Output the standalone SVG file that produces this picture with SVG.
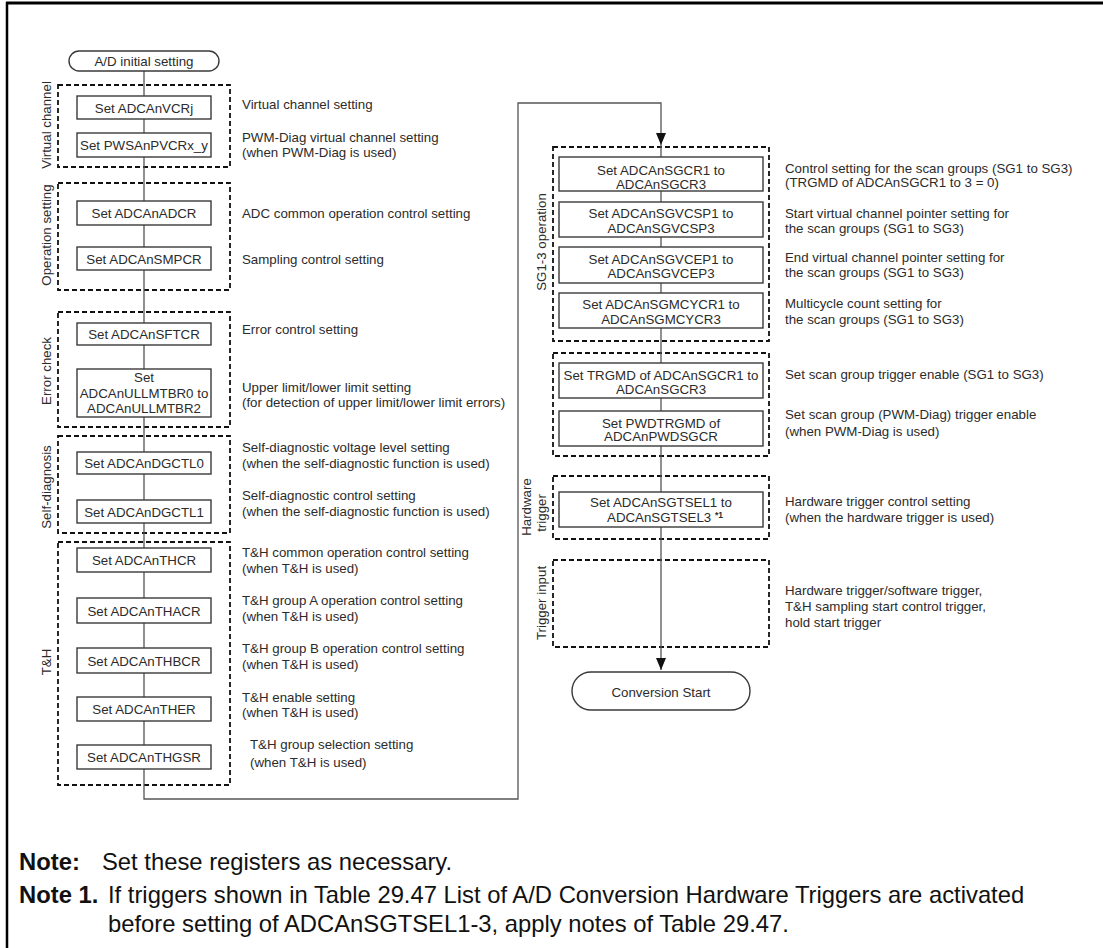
<svg xmlns="http://www.w3.org/2000/svg" width="1103" height="948" viewBox="0 0 1103 948">
<style>
text{font-family:"Liberation Sans",Arial,sans-serif;fill:#2b2b2b;font-size:13.3px}
.c{text-anchor:middle}
.box{fill:#fff;stroke:#3a3a3a;stroke-width:1.4}
.dash{fill:none;stroke:#111;stroke-width:1.8;stroke-dasharray:5,3}
.conn{fill:none;stroke:#555;stroke-width:1.3}
.lbl{text-anchor:middle}
.note{font-size:23.8px;fill:#111}
.nb{font-weight:bold}
</style>
<defs>
<marker id="arr" markerUnits="userSpaceOnUse" markerWidth="12" markerHeight="10" refX="12" refY="5" orient="auto" viewBox="0 0 12 10">
<path d="M0,0 L12,5 L0,10 Z" fill="#111"/>
</marker>
</defs>
<rect width="1103" height="948" fill="#fff"/>
<g id="frame">
<line x1="6" y1="3" x2="1103" y2="3" stroke="#000" stroke-width="3"/>
<line x1="7" y1="2" x2="7" y2="948" stroke="#000" stroke-width="2.5"/>
</g>
<g id="groups">
<rect class="dash" x="58" y="85" width="172" height="82"/>
<rect class="dash" x="58" y="183" width="172" height="107"/>
<rect class="dash" x="58" y="312" width="172" height="115"/>
<rect class="dash" x="58" y="436" width="172" height="97"/>
<rect class="dash" x="58" y="542" width="172" height="243"/>
<rect class="dash" x="553" y="147" width="216" height="194"/>
<rect class="dash" x="553" y="353" width="216" height="103"/>
<rect class="dash" x="553" y="476" width="216" height="63"/>
<rect class="dash" x="553" y="560" width="216" height="87"/>
<text class="lbl" transform="translate(51,125) rotate(-90)">Virtual channel</text>
<text class="lbl" transform="translate(51,235) rotate(-90)">Operation setting</text>
<text class="lbl" transform="translate(51,371) rotate(-90)">Error check</text>
<text class="lbl" transform="translate(51,487) rotate(-90)">Self-diagnosis</text>
<text class="lbl" transform="translate(51,662) rotate(-90)">T&amp;H</text>
<text class="lbl" transform="translate(546,242) rotate(-90)">SG1-3 operation</text>
<text class="lbl" transform="translate(531,507) rotate(-90)">Hardware</text>
<text class="lbl" transform="translate(546,513) rotate(-90)">trigger</text>
<text class="lbl" transform="translate(546,603) rotate(-90)">Trigger input</text>
</g>
<g id="connectors">
<path class="conn" d="M144,71 V799 H518 V103 H661 V145" marker-end="url(#arr)"/>
<path class="conn" d="M661,145 V670" marker-end="url(#arr)"/>
</g>
<g id="n-start"><rect class="box" x="69" y="51" width="150" height="20" rx="10"/><text class="c" x="144" y="66">A/D initial setting</text></g>
<g id="n-vcr"><rect class="box" x="77" y="96" width="134" height="23"/><text class="c" x="144" y="112.5">Set ADCAnVCRj</text></g>
<g id="n-pvcr"><rect class="box" x="77" y="133" width="134" height="24"/><text class="c" x="144" y="150">Set PWSAnPVCRx_y</text></g>
<g id="n-adcr"><rect class="box" x="77" y="201" width="134" height="24"/><text class="c" x="144" y="218">Set ADCAnADCR</text></g>
<g id="n-smpcr"><rect class="box" x="77" y="247" width="134" height="23"/><text class="c" x="144" y="263.5">Set ADCAnSMPCR</text></g>
<g id="n-sftcr"><rect class="box" x="77" y="323" width="134" height="22"/><text class="c" x="144" y="339">Set ADCAnSFTCR</text></g>
<g id="n-ullm"><rect class="box" x="77" y="369" width="134" height="48"/><text class="c" x="144" y="382">Set</text><text class="c" x="144" y="397.5">ADCAnULLMTBR0 to</text><text class="c" x="144" y="413">ADCAnULLMTBR2</text></g>
<g id="n-dg0"><rect class="box" x="77" y="452" width="134" height="22"/><text class="c" x="144" y="468">Set ADCAnDGCTL0</text></g>
<g id="n-dg1"><rect class="box" x="77" y="500" width="134" height="23"/><text class="c" x="144" y="516.5">Set ADCAnDGCTL1</text></g>
<g id="n-thcr"><rect class="box" x="77" y="548" width="134" height="24"/><text class="c" x="144" y="565">Set ADCAnTHCR</text></g>
<g id="n-thacr"><rect class="box" x="77" y="598" width="134" height="25"/><text class="c" x="144" y="615.5">Set ADCAnTHACR</text></g>
<g id="n-thbcr"><rect class="box" x="77" y="648" width="134" height="25"/><text class="c" x="144" y="665.5">Set ADCAnTHBCR</text></g>
<g id="n-ther"><rect class="box" x="77" y="697" width="134" height="24"/><text class="c" x="144" y="714">Set ADCAnTHER</text></g>
<g id="n-thgsr"><rect class="box" x="77" y="745" width="134" height="24"/><text class="c" x="144" y="762">Set ADCAnTHGSR</text></g>
<g id="n-sgcr"><rect class="box" x="559" y="157" width="204" height="34"/><text class="c" x="661" y="175">Set ADCAnSGCR1 to</text><text class="c" x="661" y="189">ADCAnSGCR3</text></g>
<g id="n-sgvcsp"><rect class="box" x="559" y="202" width="204" height="35"/><text class="c" x="661" y="218">Set ADCAnSGVCSP1 to</text><text class="c" x="661" y="233">ADCAnSGVCSP3</text></g>
<g id="n-sgvcep"><rect class="box" x="559" y="247" width="204" height="36"/><text class="c" x="661" y="264">Set ADCAnSGVCEP1 to</text><text class="c" x="661" y="278">ADCAnSGVCEP3</text></g>
<g id="n-sgmcycr"><rect class="box" x="559" y="293" width="204" height="35"/><text class="c" x="661" y="309">Set ADCAnSGMCYCR1 to</text><text class="c" x="661" y="324">ADCAnSGMCYCR3</text></g>
<g id="n-trgmd"><rect class="box" x="559" y="363" width="204" height="35"/><text class="c" x="661" y="380">Set TRGMD of ADCAnSGCR1 to</text><text class="c" x="661" y="394">ADCAnSGCR3</text></g>
<g id="n-pwdtrgmd"><rect class="box" x="559" y="411" width="204" height="35"/><text class="c" x="661" y="428">Set PWDTRGMD of</text><text class="c" x="661" y="441">ADCAnPWDSGCR</text></g>
<g id="n-sgtsel"><rect class="box" x="559" y="492" width="204" height="35"/><text class="c" x="661" y="507">Set ADCAnSGTSEL1 to</text><text class="c" x="665" y="521.5">ADCAnSGTSEL3 <tspan font-size="8.5" font-weight="bold" dy="-4">*1</tspan></text></g>
<g id="n-end"><rect class="box" x="572" y="672" width="178" height="38" rx="19"/><text class="c" x="661" y="697">Conversion Start</text></g>
<g id="desc-left">
<text x="242" y="109">Virtual channel setting</text>
<text x="242" y="142">PWM-Diag virtual channel setting</text>
<text x="242" y="157">(when PWM-Diag is used)</text>
<text x="242" y="218">ADC common operation control setting</text>
<text x="242" y="264">Sampling control setting</text>
<text x="242" y="334">Error control setting</text>
<text x="242" y="392">Upper limit/lower limit setting</text>
<text x="242" y="407">(for detection of upper limit/lower limit errors)</text>
<text x="242" y="452">Self-diagnostic voltage level setting</text>
<text x="242" y="468">(when the self-diagnostic function is used)</text>
<text x="242" y="500">Self-diagnostic control setting</text>
<text x="242" y="516">(when the self-diagnostic function is used)</text>
<text x="242" y="557">T&amp;H common operation control setting</text>
<text x="242" y="573">(when T&amp;H is used)</text>
<text x="242" y="605">T&amp;H group A operation control setting</text>
<text x="242" y="621">(when T&amp;H is used)</text>
<text x="242" y="653">T&amp;H group B operation control setting</text>
<text x="242" y="669">(when T&amp;H is used)</text>
<text x="242" y="702">T&amp;H enable setting</text>
<text x="242" y="717">(when T&amp;H is used)</text>
<text x="250" y="749" font-size="15">T&amp;H group selection setting</text>
<text x="250" y="767" font-size="15">(when T&amp;H is used)</text>
</g>
<g id="desc-right">
<text x="785" y="173">Control setting for the scan groups (SG1 to SG3)</text>
<text x="785" y="187">(TRGMD of ADCAnSGCR1 to 3 = 0)</text>
<text x="785" y="218">Start virtual channel pointer setting for</text>
<text x="785" y="233">the scan groups (SG1 to SG3)</text>
<text x="785" y="262">End virtual channel pointer setting for</text>
<text x="785" y="277">the scan groups (SG1 to SG3)</text>
<text x="785" y="308">Multicycle count setting for</text>
<text x="785" y="324">the scan groups (SG1 to SG3)</text>
<text x="785" y="379">Set scan group trigger enable (SG1 to SG3)</text>
<text x="785" y="419">Set scan group (PWM-Diag) trigger enable</text>
<text x="785" y="436">(when PWM-Diag is used)</text>
<text x="785" y="506">Hardware trigger control setting</text>
<text x="785" y="522">(when the hardware trigger is used)</text>
<text x="785" y="595">Hardware trigger/software trigger,</text>
<text x="785" y="611">T&amp;H sampling start control trigger,</text>
<text x="785" y="627">hold start trigger</text>
</g>
<g id="notes">
<text class="note nb" x="19" y="870">Note:</text>
<text class="note" x="102" y="870">Set these registers as necessary.</text>
<text class="note nb" x="19" y="903">Note 1.</text>
<text class="note" x="108" y="903">If triggers shown in Table 29.47 List of A/D Conversion Hardware Triggers are activated</text>
<text class="note" x="108" y="932">before setting of ADCAnSGTSEL1-3, apply notes of Table 29.47.</text>
</g>
</svg>
